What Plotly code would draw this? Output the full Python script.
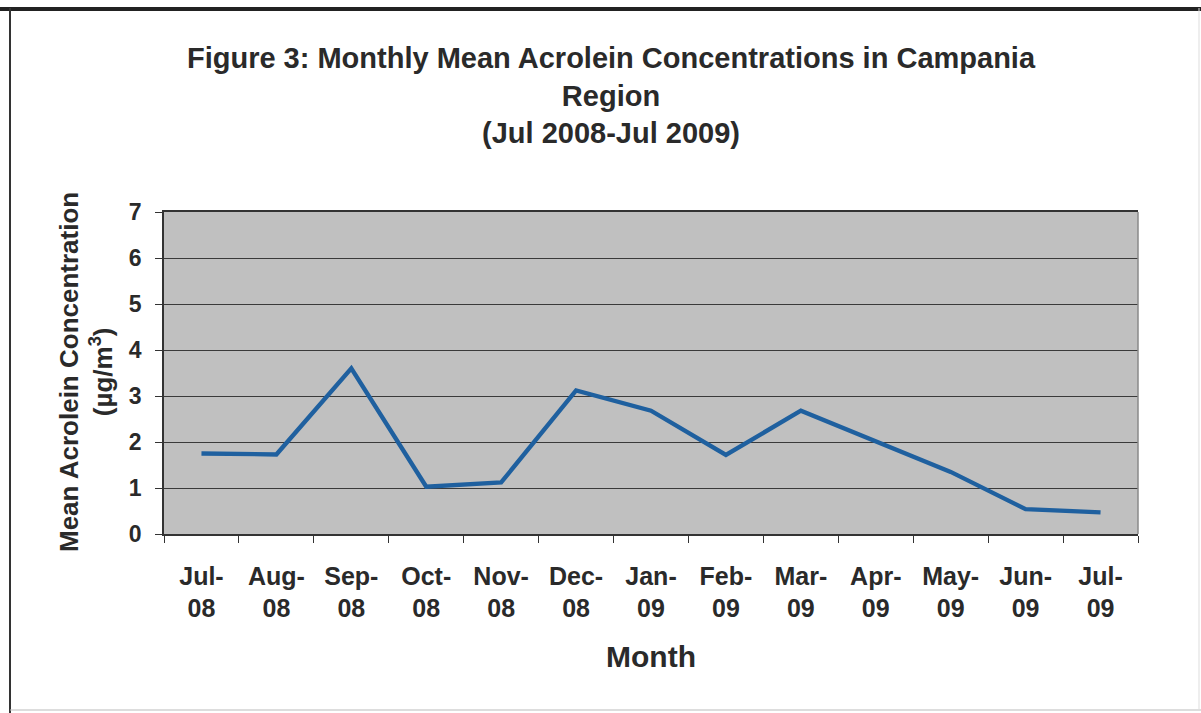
import plotly.graph_objects as go

# Monthly mean acrolein concentrations (µg/m³), Jul 2008 - Jul 2009
months = ["Jul-08", "Aug-08", "Sep-08", "Oct-08", "Nov-08", "Dec-08", "Jan-09",
          "Feb-09", "Mar-09", "Apr-09", "May-09", "Jun-09", "Jul-09"]
tick_text = ["Jul-<br>08", "Aug-<br>08", "Sep-<br>08", "Oct-<br>08", "Nov-<br>08",
             "Dec-<br>08", "Jan-<br>09", "Feb-<br>09", "Mar-<br>09", "Apr-<br>09",
             "May-<br>09", "Jun-<br>09", "Jul-<br>09"]
concentration = [1.75, 1.73, 3.60, 1.03, 1.12, 3.12, 2.68, 1.72, 2.68, 2.01, 1.35, 0.54, 0.47]
y_ticks = [0, 1, 2, 3, 4, 5, 6, 7]

W, H = 1201, 713
L, R, T, B = 164, 1138, 212, 534  # plot area in pixels
FONT = "Liberation Sans, Arial, sans-serif"
TXT = "#2a2a2a"


def px(x):
    return (x - L) / (R - L)


def py(y):
    return (B - y) / (B - T)


fig = go.Figure()
fig.add_trace(go.Scatter(
    x=months, y=concentration, mode="lines",
    line=dict(color="#1f609f", width=4.4),
    showlegend=False,
))

fig.update_layout(
    width=W, height=H,
    margin=dict(l=L, r=W - R, t=T, b=H - B),
    paper_bgcolor="white",
    plot_bgcolor="#c0c0c0",
    font=dict(family=FONT, color=TXT),
    title=dict(
        text="Figure 3: Monthly Mean Acrolein Concentrations in Campania<br>Region<br>(Jul 2008-Jul 2009)",
        x=611 / W, xref="container", xanchor="center",
        y=1 - 68 / H, yref="container", yanchor="top",
        font=dict(family=FONT, size=29, color=TXT, weight="bold"),
    ),
    xaxis=dict(
        type="category", range=[-0.5, 12.5],
        tickvals=months, ticktext=tick_text,
        tickson="boundaries", ticks="outside", ticklen=7, tickcolor="#333",
        showgrid=False, showline=True, linecolor="#333", linewidth=1.5, mirror=True,
        tickfont=dict(family=FONT, size=25, color=TXT, weight="bold"),
        ticklabelstandoff=19,
    ),
    yaxis=dict(
        range=[0, 7], tickvals=y_ticks,
        ticks="outside", ticklen=7, tickcolor="#333",
        showgrid=True, gridcolor="#3a3a3a", gridwidth=1,
        showline=True, linecolor="#333", linewidth=1.5,
        zeroline=False,
        tickfont=dict(family=FONT, size=23, color=TXT, weight="bold"),
        ticklabelstandoff=9,
    ),
    annotations=[
        dict(text="Mean Acrolein Concentration<br>(µg/m<sup>3</sup>)",
             x=px(86), y=py(372), xref="paper", yref="paper",
             xanchor="center", yanchor="middle", textangle=-90, showarrow=False,
             font=dict(family=FONT, size=26, color=TXT, weight="bold")),
        dict(text="Month", x=px(651), y=py(656), xref="paper", yref="paper",
             xanchor="center", yanchor="middle", showarrow=False,
             font=dict(family=FONT, size=30, color=TXT, weight="bold")),
    ],
    shapes=[
        # right edge of the plot area
        dict(type="line", xref="paper", yref="paper", x0=1, x1=1, y0=0, y1=1,
             line=dict(color="#8a8a8a", width=1.5)),
        # outer frame around the figure
        dict(type="line", xref="paper", yref="paper", x0=px(0), x1=px(W), y0=py(9), y1=py(9),
             line=dict(color="#222", width=4)),
        dict(type="line", xref="paper", yref="paper", x0=px(10), x1=px(10), y0=py(8), y1=py(H),
             line=dict(color="#333", width=2)),
        dict(type="line", xref="paper", yref="paper", x0=px(10), x1=px(W), y0=py(710), y1=py(710),
             line=dict(color="#bbbbbb", width=1)),
        dict(type="line", xref="paper", yref="paper", x0=px(1199), x1=px(1199), y0=py(8), y1=py(710),
             line=dict(color="#dddddd", width=1)),
    ],
)

fig.write_html("out.html")
